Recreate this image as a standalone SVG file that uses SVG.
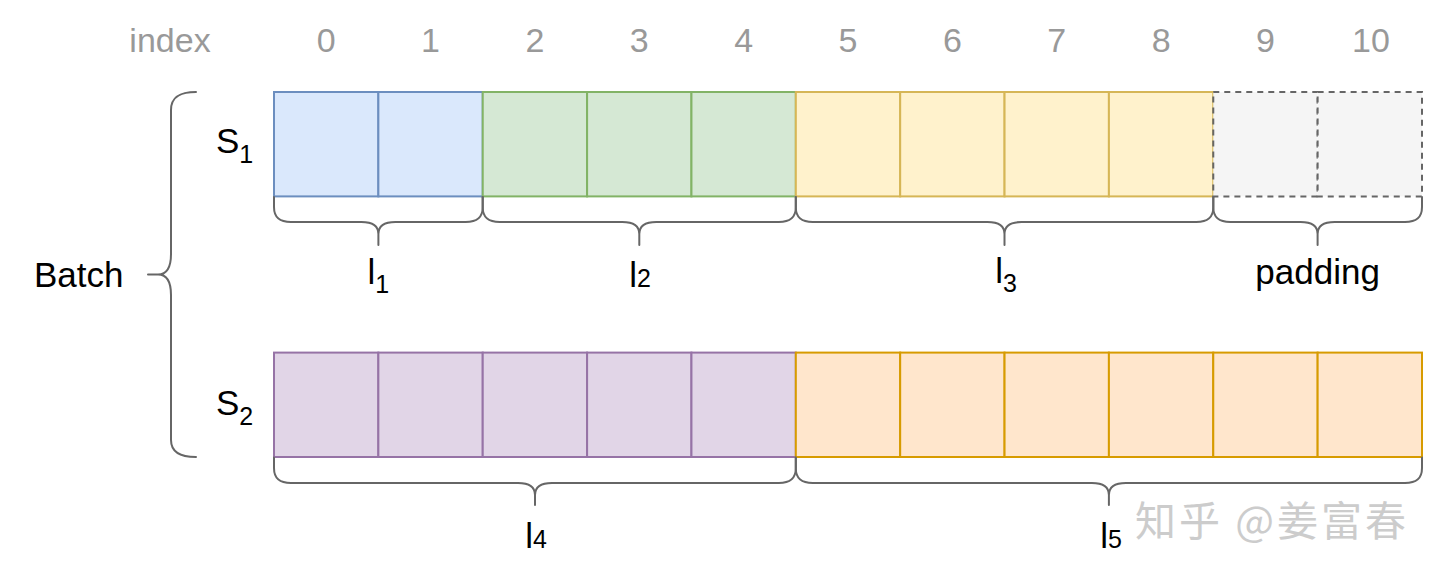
<svg xmlns="http://www.w3.org/2000/svg" width="1440" height="579" viewBox="0 0 1440 579">
<style>
  .idx { font-family: "Liberation Sans", Arial, sans-serif; font-size: 34px; fill: #999999; text-anchor: middle; }
  .lbl { font-family: "Liberation Sans", Arial, sans-serif; font-size: 35px; fill: #000000; }
  .sub { font-size: 25px; }
  .brace { fill: none; stroke: #666666; stroke-width: 2; stroke-linecap: round; stroke-linejoin: round; }
  .blue { fill: #dae8fc; stroke: #6c8ebf; stroke-width: 2; }
  .green { fill: #d5e8d4; stroke: #82b366; stroke-width: 2; }
  .yellow { fill: #fff2cc; stroke: #d6b656; stroke-width: 2; }
  .gray { fill: #f5f5f5; stroke: #666666; stroke-width: 2; stroke-dasharray: 6 5; }
  .purple { fill: #e1d5e7; stroke: #9673a6; stroke-width: 2; }
  .orange { fill: #ffe6cc; stroke: #d79b00; stroke-width: 2; }
  .wm { font-family: "Noto Sans CJK SC", "Liberation Sans", sans-serif; font-size: 41px; letter-spacing: 3px; fill: #cccccc; }
</style>
<rect x="0" y="0" width="1440" height="579" fill="#ffffff"/>

<g id="index-header">
  <text class="idx" x="170" y="52">index</text>
  <text class="idx" x="326.2" y="52">0</text>
  <text class="idx" x="430.5" y="52">1</text>
  <text class="idx" x="534.9" y="52">2</text>
  <text class="idx" x="639.3" y="52">3</text>
  <text class="idx" x="743.6" y="52">4</text>
  <text class="idx" x="848" y="52">5</text>
  <text class="idx" x="952.4" y="52">6</text>
  <text class="idx" x="1056.7" y="52">7</text>
  <text class="idx" x="1161.1" y="52">8</text>
  <text class="idx" x="1265.5" y="52">9</text>
  <text class="idx" x="1371" y="52">10</text>
</g>

<g id="seq-s1">
  <g id="s1-l1">
    <rect class="blue" x="274" y="92" width="104.36" height="104.4"/>
    <rect class="blue" x="378.36" y="92" width="104.36" height="104.4"/>
  </g>
  <g id="s1-l2">
    <rect class="green" x="482.73" y="92" width="104.36" height="104.4"/>
    <rect class="green" x="587.09" y="92" width="104.36" height="104.4"/>
    <rect class="green" x="691.45" y="92" width="104.36" height="104.4"/>
  </g>
  <g id="s1-l3">
    <rect class="yellow" x="795.82" y="92" width="104.36" height="104.4"/>
    <rect class="yellow" x="900.18" y="92" width="104.36" height="104.4"/>
    <rect class="yellow" x="1004.55" y="92" width="104.36" height="104.4"/>
    <rect class="yellow" x="1108.91" y="92" width="104.36" height="104.4"/>
  </g>
  <g id="s1-padding">
    <rect class="gray" x="1213.27" y="92" width="104.36" height="104.4"/>
    <rect class="gray" x="1317.64" y="92" width="104.36" height="104.4"/>
  </g>
</g>

<g id="seq-s2">
  <g id="s2-l4">
    <rect class="purple" x="274" y="352.6" width="104.36" height="104.4"/>
    <rect class="purple" x="378.36" y="352.6" width="104.36" height="104.4"/>
    <rect class="purple" x="482.73" y="352.6" width="104.36" height="104.4"/>
    <rect class="purple" x="587.09" y="352.6" width="104.36" height="104.4"/>
    <rect class="purple" x="691.45" y="352.6" width="104.36" height="104.4"/>
  </g>
  <g id="s2-l5">
    <rect class="orange" x="795.82" y="352.6" width="104.36" height="104.4"/>
    <rect class="orange" x="900.18" y="352.6" width="104.36" height="104.4"/>
    <rect class="orange" x="1004.55" y="352.6" width="104.36" height="104.4"/>
    <rect class="orange" x="1108.91" y="352.6" width="104.36" height="104.4"/>
    <rect class="orange" x="1213.27" y="352.6" width="104.36" height="104.4"/>
    <rect class="orange" x="1317.64" y="352.6" width="104.36" height="104.4"/>
  </g>
</g>

<g id="connectors">
  <path class="brace" d="M274,197 V207 C274,218 280,222 291,222 H361.4 C372.4,222 378.4,226 378.4,234 V245 M378.4,234 C378.4,226 384.4,222 395.4,222 H465.7 C476.7,222 482.7,218 482.7,207 V197"/>
  <path class="brace" d="M482.7,197 V207 C482.7,218 488.7,222 499.7,222 H622.3 C633.3,222 639.3,226 639.3,234 V245 M639.3,234 C639.3,226 645.3,222 656.3,222 H778.8 C789.8,222 795.8,218 795.8,207 V197"/>
  <path class="brace" d="M795.8,197 V207 C795.8,218 801.8,222 812.8,222 H987.5 C998.5,222 1004.5,226 1004.5,234 V245 M1004.5,234 C1004.5,226 1010.5,222 1021.5,222 H1196.3 C1207.3,222 1213.3,218 1213.3,207 V197"/>
  <path class="brace" d="M1213.3,197 V207 C1213.3,218 1219.3,222 1230.3,222 H1300.6 C1311.6,222 1317.6,226 1317.6,234 V245 M1317.6,234 C1317.6,226 1323.6,222 1334.6,222 H1405 C1416,222 1422,218 1422,207 V197"/>
  <path class="brace" d="M274,457.5 V468 C274,479 280,483 291,483 H518 C529,483 535,487 535,495 V505 M535,495 C535,487 541,483 552,483 H778.8 C789.8,483 795.8,479 795.8,468 V457.5"/>
  <path class="brace" d="M795.8,457.5 V468 C795.8,479 801.8,483 812.8,483 H1091.9 C1102.9,483 1108.9,487 1108.9,495 V505 M1108.9,495 C1108.9,487 1114.9,483 1125.9,483 H1405 C1416,483 1422,479 1422,468 V457.5"/>
  <path class="brace" d="M196,92 C183,92 171,95 171,110 V254 C171,268 166,274.5 158,274.5 H148 M158,274.5 C166,274.5 171,281 171,295 V440 C171,454 183,457 196,457"/>
</g>

<g id="labels">
  <text class="lbl" x="34" y="287">Batch</text>
  <text class="lbl" x="216" y="153">S<tspan class="sub" dy="10">1</tspan></text>
  <text class="lbl" x="216" y="415">S<tspan class="sub" dy="10">2</tspan></text>
  <text class="lbl" x="378.4" y="284" text-anchor="middle">l<tspan class="sub" dy="9">1</tspan></text>
  <text class="lbl" x="640" y="287" text-anchor="middle">l<tspan class="sub">2</tspan></text>
  <text class="lbl" x="1006" y="283" text-anchor="middle">l<tspan class="sub" dy="9">3</tspan></text>
  <text class="lbl" x="1317.6" y="284" text-anchor="middle">padding</text>
  <text class="lbl" x="536" y="548" text-anchor="middle">l<tspan class="sub">4</tspan></text>
  <text class="lbl" x="1111" y="548" text-anchor="middle">l<tspan class="sub">5</tspan></text>
</g>

<g id="watermark">
  <text class="wm" x="1135" y="536">知乎 @姜富春</text>
</g>
</svg>
